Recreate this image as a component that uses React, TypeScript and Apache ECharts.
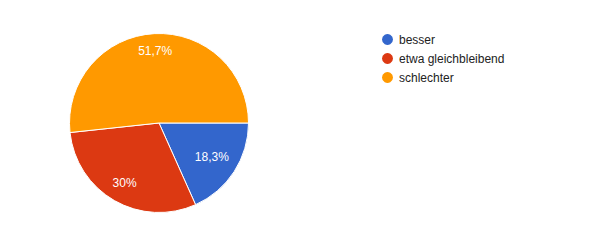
import React, { useEffect, useRef } from "react";
import * as echarts from "echarts";

const categories = ["besser", "etwa gleichbleibend", "schlechter"];
const values = [18.3, 30, 51.7];
const labels = ["18,3%", "30%", "51,7%"];
const colors = ["#3366cc", "#dc3912", "#ff9900"];
const labelRadii = [60, 66, 69];

export default function App() {
  const ref = useRef<HTMLDivElement>(null);
  useEffect(() => {
    if (!ref.current) return;
    const chart = echarts.init(ref.current, null, { renderer: "svg" });
    const data = categories.map((name, i) => ({
      name,
      value: values[i],
      itemStyle: { color: colors[i] },
    }));
    const center = [159, 123];
    const R = 89.5;
    const overlays = labelRadii.map((d, k) => ({
      type: "pie",
      center,
      radius: [d - 10, d + 10],
      startAngle: 0,
      clockwise: true,
      silent: true,
      legendHoverLink: false,
      avoidLabelOverlap: false,
      itemStyle: { color: "transparent", borderWidth: 0 },
      emphasis: { disabled: true },
      labelLine: { show: false },
      data: categories.map((name, i) => ({
        name,
        value: values[i],
        itemStyle: { color: "rgba(0,0,0,0)" },
        label: {
          show: i === k,
          position: "inside",
          formatter: labels[i],
          color: "#ffffff",
          fontFamily: "Arial, 'Liberation Sans', sans-serif",
          fontSize: 12,
        },
      })),
    }));
    chart.setOption({
      animation: false,
      color: colors,
      legend: {
        orient: "vertical",
        left: 380,
        top: 32,
        padding: 0,
        icon: "circle",
        itemWidth: 13,
        itemHeight: 13,
        itemGap: 4,
        data: categories,
        textStyle: {
          fontFamily: "Arial, 'Liberation Sans', sans-serif",
          fontSize: 12,
          color: "#222222",
        },
      },
      series: [
        {
          type: "pie",
          center,
          radius: [0, R],
          startAngle: 0,
          clockwise: true,
          avoidLabelOverlap: false,
          label: { show: false },
          labelLine: { show: false },
          itemStyle: { borderColor: "#ffffff", borderWidth: 1 },
          data,
        },
        ...overlays,
      ],
    });
    return () => chart.dispose();
  }, []);
  return (
    <div
      ref={ref}
      style={{ position: "absolute", left: 0, top: 0, width: 594, height: 243, background: "#ffffff" }}
    />
  );
}
